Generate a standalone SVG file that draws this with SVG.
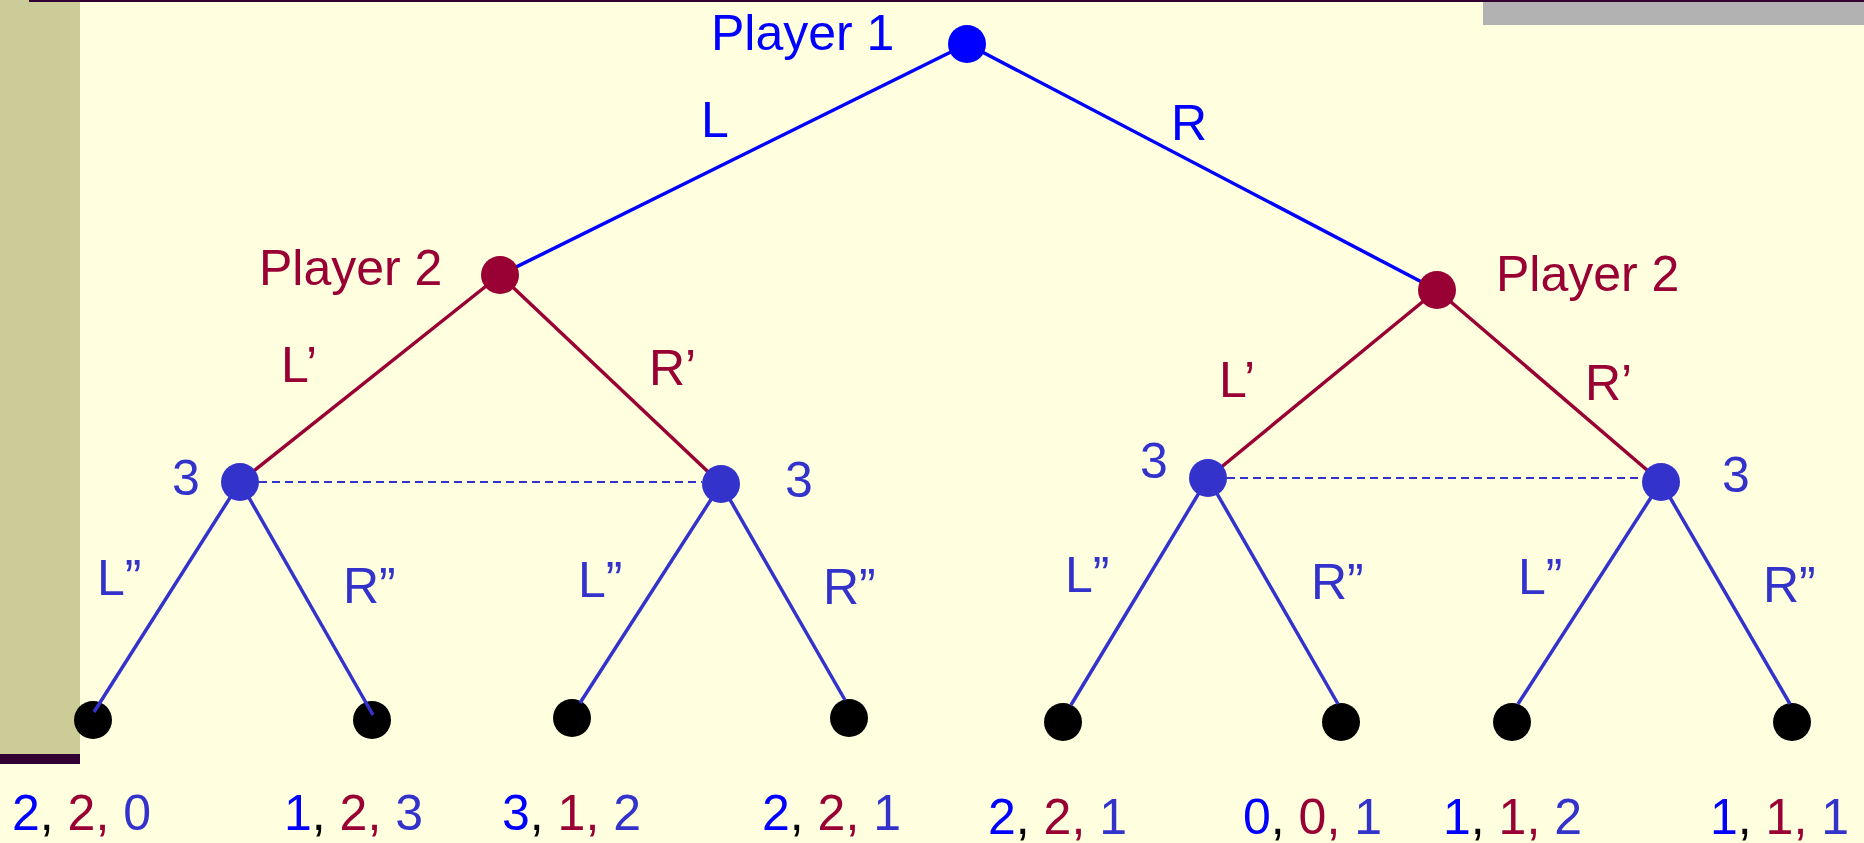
<svg xmlns="http://www.w3.org/2000/svg" width="1864" height="843" viewBox="0 0 1864 843">
<style>
text{font-family:"Liberation Sans",Arial,sans-serif;font-size:50px}
.b{fill:#0000FF}.m{fill:#990033}.c{fill:#3333CC}.k{fill:#000000}
.lb{stroke:#0000FF;stroke-width:3.5;fill:none}
.lm{stroke:#990033;stroke-width:3.5;fill:none}
.lc{stroke:#3333CC;stroke-width:3.5;fill:none}
.dash{stroke:#3333CC;stroke-width:2.2;stroke-dasharray:8 5;fill:none}
</style>
<rect x="0" y="0" width="1864" height="843" fill="#FFFFE0"/>
<rect x="0" y="0" width="80" height="754" fill="#CCCC99"/>
<rect x="0" y="754" width="80" height="10" fill="#330033"/>
<rect x="1483" y="2" width="381" height="23" fill="#B2B2B2"/>
<rect x="29" y="0" width="1835" height="2" fill="#330033"/>
<g id="leaves">
<g id="leaf1"><circle cx="93" cy="720" r="19" class="k"/></g>
<g id="leaf2"><circle cx="372" cy="720" r="19" class="k"/></g>
<g id="leaf3"><circle cx="572" cy="718" r="19" class="k"/></g>
<g id="leaf4"><circle cx="849" cy="718" r="19" class="k"/></g>
<g id="leaf5"><circle cx="1063" cy="722" r="19" class="k"/></g>
<g id="leaf6"><circle cx="1341" cy="722" r="19" class="k"/></g>
<g id="leaf7"><circle cx="1512" cy="722" r="19" class="k"/></g>
<g id="leaf8"><circle cx="1792" cy="722" r="19" class="k"/></g>
</g>
<g id="connectors">
<line x1="967" y1="44" x2="500" y2="275" class="lb"/>
<line x1="967" y1="44" x2="1437" y2="290" class="lb"/>
<line x1="500" y1="275" x2="240" y2="482" class="lm"/>
<line x1="500" y1="275" x2="721" y2="484" class="lm"/>
<line x1="1437" y1="290" x2="1208" y2="478" class="lm"/>
<line x1="1437" y1="290" x2="1661" y2="482" class="lm"/>
<line x1="240" y1="482" x2="94" y2="712" class="lc"/>
<line x1="240" y1="482" x2="373" y2="715" class="lc"/>
<line x1="721" y1="484" x2="580" y2="703" class="lc"/>
<line x1="721" y1="484" x2="845" y2="700" class="lc"/>
<line x1="1208" y1="478" x2="1071" y2="705" class="lc"/>
<line x1="1208" y1="478" x2="1338" y2="704" class="lc"/>
<line x1="1661" y1="482" x2="1518" y2="704" class="lc"/>
<line x1="1661" y1="482" x2="1790" y2="704" class="lc"/>
<line x1="259" y1="482" x2="702" y2="482" class="dash"/>
<line x1="1227" y1="478" x2="1642" y2="478" class="dash"/>
</g>
<g id="edge-labels">
<text x="701" y="137" class="b">L</text>
<text x="1171" y="140" class="b">R</text>
<text x="281" y="382" class="m">L’</text>
<text x="649" y="385" class="m">R’</text>
<text x="1219" y="397" class="m">L’</text>
<text x="1585" y="400" class="m">R’</text>
<text x="97" y="595" class="c">L”</text>
<text x="343" y="603" class="c">R”</text>
<text x="578" y="597" class="c">L”</text>
<text x="823" y="604" class="c">R”</text>
<text x="1065" y="592" class="c">L”</text>
<text x="1311" y="599" class="c">R”</text>
<text x="1518" y="594" class="c">L”</text>
<text x="1763" y="602" class="c">R”</text>
</g>
<g id="player1"><circle cx="967" cy="44" r="19" class="b"/><text x="711" y="50" class="b">Player 1</text></g>
<g id="player2-left"><circle cx="500" cy="275" r="19" class="m"/><text x="259" y="285" class="m">Player 2</text></g>
<g id="player2-right"><circle cx="1437" cy="290" r="19" class="m"/><text x="1496" y="291" class="m">Player 2</text></g>
<g id="p3-ll"><circle cx="240" cy="482" r="19" class="c"/><text x="172" y="495" class="c">3</text></g>
<g id="p3-lr"><circle cx="721" cy="484" r="19" class="c"/><text x="785" y="497" class="c">3</text></g>
<g id="p3-rl"><circle cx="1208" cy="478" r="19" class="c"/><text x="1140" y="478" class="c">3</text></g>
<g id="p3-rr"><circle cx="1661" cy="482" r="19" class="c"/><text x="1722" y="492" class="c">3</text></g>
<g id="payoffs">
<text x="12" y="830"><tspan class="b">2</tspan><tspan class="k">, </tspan><tspan class="m">2, </tspan><tspan class="c">0</tspan></text>
<text x="284" y="830"><tspan class="b">1</tspan><tspan class="k">, </tspan><tspan class="m">2, </tspan><tspan class="c">3</tspan></text>
<text x="502" y="830"><tspan class="b">3</tspan><tspan class="k">, </tspan><tspan class="m">1, </tspan><tspan class="c">2</tspan></text>
<text x="762" y="830"><tspan class="b">2</tspan><tspan class="k">, </tspan><tspan class="m">2, </tspan><tspan class="c">1</tspan></text>
<text x="988" y="834"><tspan class="b">2</tspan><tspan class="k">, </tspan><tspan class="m">2, </tspan><tspan class="c">1</tspan></text>
<text x="1243" y="834"><tspan class="b">0</tspan><tspan class="k">, </tspan><tspan class="m">0, </tspan><tspan class="c">1</tspan></text>
<text x="1443" y="834"><tspan class="b">1</tspan><tspan class="k">, </tspan><tspan class="m">1, </tspan><tspan class="c">2</tspan></text>
<text x="1710" y="834"><tspan class="b">1</tspan><tspan class="k">, </tspan><tspan class="m">1, </tspan><tspan class="c">1</tspan></text>
</g>
</svg>
